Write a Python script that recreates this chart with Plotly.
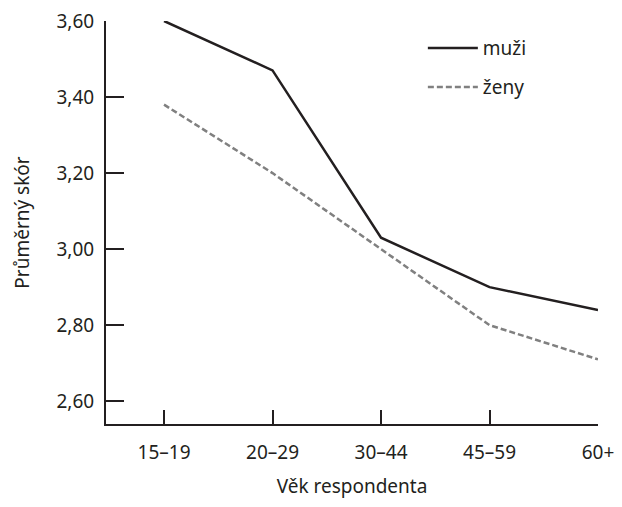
import plotly.graph_objects as go

categories = ["15–19", "20–29", "30–44", "45–59", "60+"]
muzi = [3.60, 3.47, 3.03, 2.90, 2.84]
zeny = [3.38, 3.20, 3.00, 2.80, 2.71]
y_ticks = [2.60, 2.80, 3.00, 3.20, 3.40, 3.60]
y_tick_labels = ["2,60", "2,80", "3,00", "3,20", "3,40", "3,60"]

ink = "#231f20"
font_family = "Noto Sans, Open Sans, sans-serif"

fig = go.Figure()
fig.add_trace(go.Scatter(x=list(range(len(categories))), y=muzi, mode="lines", name="muži",
                         line=dict(color=ink, width=2.5), cliponaxis=False, legend="legend"))
fig.add_trace(go.Scatter(x=list(range(len(categories))), y=zeny, mode="lines", name="ženy",
                         line=dict(color="#808080", width=2.5, dash="6px,3px"), cliponaxis=False,
                         legend="legend2"))

legend_style = dict(xanchor="left", yanchor="top", font=dict(size=19, color=ink),
                    bgcolor="rgba(0,0,0,0)", itemwidth=50)

fig.update_layout(
    width=622, height=507,
    margin=dict(l=106, r=24, t=21, b=83, autoexpand=False),
    paper_bgcolor="white", plot_bgcolor="white",
    font=dict(family=font_family, size=19, color=ink),
    showlegend=True,
    legend=dict(x=0.644, y=0.98, **legend_style),
    legend2=dict(x=0.644, y=0.883, **legend_style),
    xaxis=dict(
        range=[-0.535, 4.0], automargin=False,
        tickmode="array", tickvals=list(range(len(categories))), ticktext=categories,
        ticks="inside", ticklen=14, tickwidth=2, tickcolor=ink,
        showline=True, linecolor=ink, linewidth=2,
        showgrid=False, zeroline=False,
        ticklabelstandoff=10,
        title=dict(text="Věk respondenta", standoff=16, font=dict(size=19)),
    ),
    yaxis=dict(
        range=[2.54, 3.60], automargin=False,
        tickmode="array", tickvals=y_ticks, ticktext=y_tick_labels,
        ticks="inside", ticklen=18, tickwidth=2, tickcolor=ink,
        showline=True, linecolor=ink, linewidth=2,
        showgrid=False, zeroline=False,
        ticklabelstandoff=6,
        title=dict(text="Průměrný skór", standoff=22, font=dict(size=19)),
    ),
)

fig.write_html("out.html", config={"displayModeBar": False},
               post_script="document.body.style.margin='0';")
